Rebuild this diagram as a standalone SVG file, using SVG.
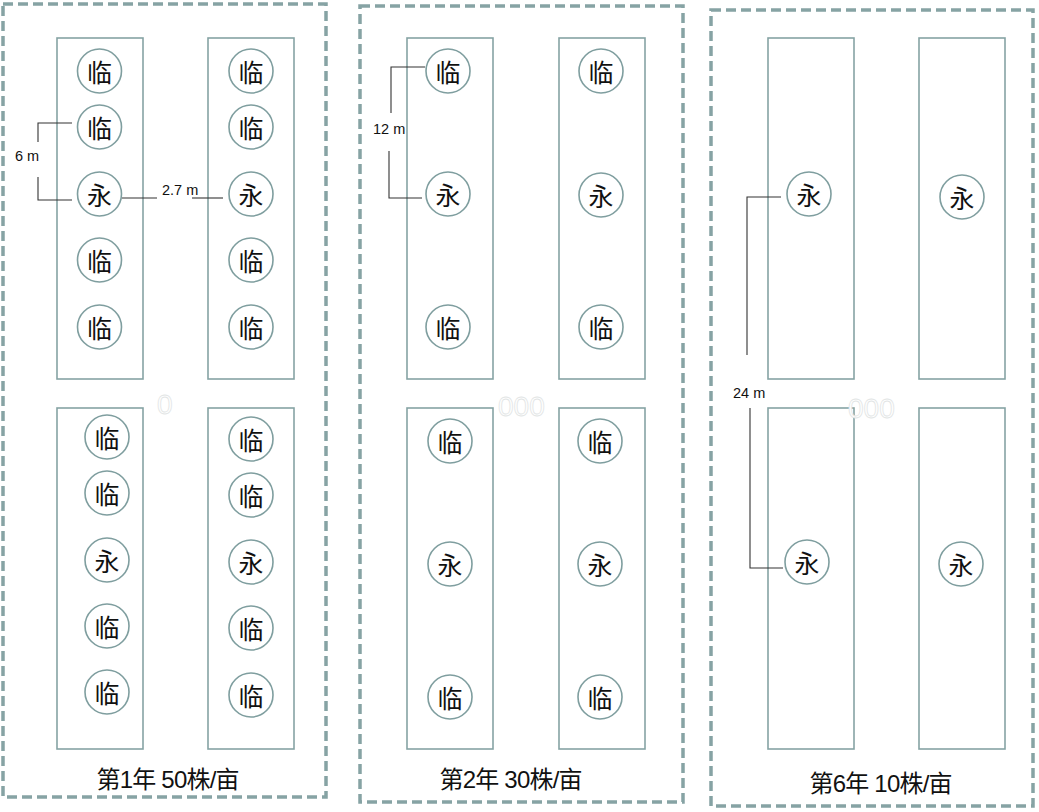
<svg xmlns="http://www.w3.org/2000/svg" width="1039" height="812" viewBox="0 0 1039 812">
<style>
.frame{fill:none;stroke:#86a3a4;stroke-width:3.5;stroke-dasharray:10 5}
.bed{fill:#fff;stroke:#86a3a4;stroke-width:1.6}
.tree circle{fill:#fff;stroke:#7f9e9f;stroke-width:1.6}
.tree text{font-family:"Noto Sans CJK SC","Noto Sans CJK JP",sans-serif;font-size:25px;fill:#111;text-anchor:middle;dominant-baseline:central}
.dim{fill:none;stroke:#333;stroke-width:1.1}
.dimt{font-family:"Liberation Sans",Arial,sans-serif;font-size:14.5px;fill:#111}
.title{font-family:"Liberation Sans","Noto Sans CJK SC",sans-serif;font-size:24px;fill:#111;text-anchor:middle}
.ghost{font-family:"Liberation Sans",sans-serif;font-size:28px;fill:#fff;stroke:#e2e5e5;stroke-width:0.8}
</style>
<defs>
<g id="lin" class="tree"><circle r="22"/><text>临</text></g>
<g id="yong" class="tree"><circle r="22"/><text>永</text></g>
</defs>

<g id="panel1">
<rect class="frame" x="3" y="4" width="323" height="793"/>
<rect class="bed" x="57" y="38" width="86" height="341"/>
<rect class="bed" x="208" y="38" width="86" height="341"/>
<rect class="bed" x="57" y="408" width="86" height="341"/>
<rect class="bed" x="208" y="408" width="86" height="341"/>
<text class="title" x="168" y="788" textLength="143">第1年 50株/亩</text>
</g>
<g id="panel2">
<rect class="frame" x="360" y="6" width="323" height="796"/>
<rect class="bed" x="407" y="38" width="86" height="341"/>
<rect class="bed" x="559" y="38" width="86" height="341"/>
<rect class="bed" x="407" y="408" width="86" height="341"/>
<rect class="bed" x="559" y="408" width="86" height="341"/>
<text class="title" x="511" y="788" textLength="143">第2年 30株/亩</text>
</g>
<g id="panel3">
<rect class="frame" x="711" y="10" width="322" height="796"/>
<rect class="bed" x="768" y="38" width="86" height="341"/>
<rect class="bed" x="919" y="38" width="86" height="341"/>
<rect class="bed" x="768" y="408" width="86" height="341"/>
<rect class="bed" x="919" y="408" width="86" height="341"/>
<text class="title" x="881" y="792" textLength="143">第6年 10株/亩</text>
</g>

<g id="p1-trees">
<g id="p1-a1"><use href="#lin" x="99.5" y="71"/></g>
<g id="p1-a2"><use href="#lin" x="99.5" y="127"/></g>
<g id="p1-a3"><use href="#yong" x="99.5" y="194"/></g>
<g id="p1-a4"><use href="#lin" x="99.5" y="260"/></g>
<g id="p1-a5"><use href="#lin" x="99.5" y="327"/></g>
<g id="p1-b1"><use href="#lin" x="251" y="71"/></g>
<g id="p1-b2"><use href="#lin" x="251" y="127"/></g>
<g id="p1-b3"><use href="#yong" x="251" y="194"/></g>
<g id="p1-b4"><use href="#lin" x="251" y="260"/></g>
<g id="p1-b5"><use href="#lin" x="251" y="327"/></g>
<g id="p1-c1"><use href="#lin" x="107" y="437"/></g>
<g id="p1-c2"><use href="#lin" x="107" y="493"/></g>
<g id="p1-c3"><use href="#yong" x="107" y="560"/></g>
<g id="p1-c4"><use href="#lin" x="107" y="626"/></g>
<g id="p1-c5"><use href="#lin" x="107" y="692"/></g>
<g id="p1-d1"><use href="#lin" x="251" y="439"/></g>
<g id="p1-d2"><use href="#lin" x="251" y="495"/></g>
<g id="p1-d3"><use href="#yong" x="251" y="562"/></g>
<g id="p1-d4"><use href="#lin" x="251" y="628"/></g>
<g id="p1-d5"><use href="#lin" x="251" y="695"/></g>
</g>

<g id="p2-trees">
<g id="p2-a1"><use href="#lin" x="448" y="71"/></g>
<g id="p2-a2"><use href="#yong" x="448" y="194"/></g>
<g id="p2-a3"><use href="#lin" x="448" y="327"/></g>
<g id="p2-b1"><use href="#lin" x="601" y="71"/></g>
<g id="p2-b2"><use href="#yong" x="601" y="195"/></g>
<g id="p2-b3"><use href="#lin" x="601" y="327"/></g>
<g id="p2-c1"><use href="#lin" x="450" y="441"/></g>
<g id="p2-c2"><use href="#yong" x="450" y="564"/></g>
<g id="p2-c3"><use href="#lin" x="450" y="697"/></g>
<g id="p2-d1"><use href="#lin" x="600" y="441"/></g>
<g id="p2-d2"><use href="#yong" x="600" y="564"/></g>
<g id="p2-d3"><use href="#lin" x="600" y="697"/></g>
</g>

<g id="p3-trees">
<g id="p3-a1"><use href="#yong" x="809" y="194"/></g>
<g id="p3-b1"><use href="#yong" x="962" y="197"/></g>
<g id="p3-c1"><use href="#yong" x="807" y="562"/></g>
<g id="p3-d1"><use href="#yong" x="961" y="564"/></g>
</g>

<g id="ghosts">
<text class="ghost" x="157" y="414">0</text>
<text class="ghost" x="498" y="416">000</text>
<text class="ghost" x="848" y="418">000</text>
</g>

<g id="connectors">
<polyline class="dim" points="72,123 38,123 38,142"/>
<polyline class="dim" points="38,177 38,200 72,200"/>
<text class="dimt" x="15" y="161">6 m</text>
<line class="dim" x1="122" y1="198" x2="157" y2="198"/>
<line class="dim" x1="192" y1="198" x2="223" y2="198"/>
<text class="dimt" x="162" y="195">2.7 m</text>
<polyline class="dim" points="425,67 391,67 391,113"/>
<polyline class="dim" points="389,151 389,198 422,198"/>
<text class="dimt" x="373" y="134">12 m</text>
<polyline class="dim" points="781,197 747,197 747,355"/>
<polyline class="dim" points="750,408 750,568 783,568"/>
<text class="dimt" x="733" y="398">24 m</text>
</g>
</svg>
